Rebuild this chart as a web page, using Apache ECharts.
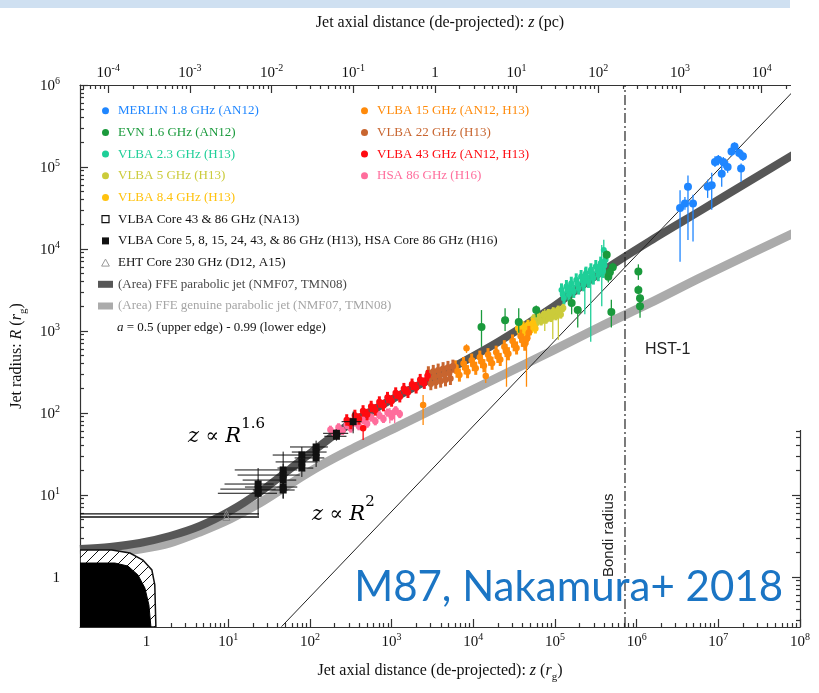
<!DOCTYPE html>
<html><head><meta charset="utf-8">
<script src="https://cdn.jsdelivr.net/npm/echarts@6/dist/echarts.min.js"></script>
<style>html,body{margin:0;padding:0;background:#fff}#c{width:819px;height:693px}</style>
</head><body><div id="c"></div>
<script>
// ===== axis ranges and ticks =====
const zMin = 0.153, zMax = 1e8;       // jet axial distance, r_g
const rMin = 0.2455, rMax = 1e6;      // jet radius, r_g
const rgPerPc = 3390;                 // 1 pc in r_g (top axis)
const bondiZ = 7.2e5;
const xTickVals = [1, 10, 100, 1e3, 1e4, 1e5, 1e6, 1e7, 1e8];
const xTickLabels = ['1', '10^1', '10^2', '10^3', '10^4', '10^5', '10^6', '10^7', '10^8'];
const pcTickVals = [1e-4, 1e-3, 1e-2, 1e-1, 1, 10, 100, 1e3, 1e4];
const pcTickLabels = ['10^-4', '10^-3', '10^-2', '10^-1', '1', '10^1', '10^2', '10^3', '10^4'];
const yTickVals = [1, 10, 100, 1e3, 1e4, 1e5, 1e6];
const yTickLabels = ['1', '10^1', '10^2', '10^3', '10^4', '10^5', '10^6'];

// ===== data: [z, R, Rlow, Rhigh, zlow, zhigh]; points with only [z, R] use the series' typical error (dex) =====
const merlin = [
  [3.4e6, 3.16e4, 7.0e3, 5.2e4], [3.9e6, 3.6e4, 3.0e4, 4.3e4], [4.25e6, 5.75e4, 1.29e4, 7.9e4],
  [4.9e6, 3.6e4, 1.23e4, 4.6e4], [7.4e6, 5.75e4, 4.2e4, 7.0e4], [8.3e6, 6.0e4, 3.0e4, 8.5e4],
  [9.1e6, 1.15e5, 1.0e5, 1.35e5], [1.0e7, 1.23e5, 1.05e5, 1.4e5], [1.1e7, 8.3e4, 5.75e4, 1.2e5],
  [1.15e7, 1.15e5, 9.8e4, 1.32e5], [1.3e7, 1.0e5, 8.5e4, 1.18e5], [1.45e7, 1.55e5, 1.35e5, 1.75e5],
  [1.58e7, 1.78e5, 1.58e5, 2.0e5], [1.8e7, 1.48e5, 1.3e5, 1.68e5], [2.0e7, 1.35e5, 1.18e5, 1.55e5],
  [1.9e7, 9.6e4, 6.6e4, 1.1e5]
];
const evn = [
  [1.26e4, 1.12e3, 6.4e2, 1.8e3], [2.45e4, 1.35e3, 1.0e3, 1.9e3], [3.6e4, 1.29e3, 9.5e2, 1.9e3],
  [5.9e4, 1.8e3, 1.47e3, 2.05e3], [1.6e5, 2.2e3, 1.6e3, 2.6e3], [1.9e5, 1.8e3, 1.1e3, 1.98e3],
  [4.3e5, 8.5e3, 7.5e3, 9.6e3], [5.1e5, 6.0e3, 5.3e3, 6.8e3], [4.5e5, 4.6e3, 3.9e3, 5.3e3],
  [4.9e5, 1.7e3, 1.1e3, 2.4e3], [1.05e6, 5.3e3, 4.2e3, 6.5e3], [1.05e6, 3.16e3, 2.8e3, 3.6e3],
  [1.1e6, 2.5e3, 2.2e3, 2.8e3], [1.1e6, 2.0e3, 1.45e3, 2.3e3], [4.7e5, 5.2e3, 4.6e3, 5.8e3]
];
const vlba23 = [
  [120226, 3170], [128825, 2518], [138038, 3483], [147911, 2767], [158489, 3819], [169824, 3041],
  [181970, 4198], [194984, 3342], [208930, 4613], [223872, 3664], [239883, 5070], [257040, 4027],
  [275423, 5572], [295121, 4426], [316228, 6109], [338844, 4864], [363078, 6714], [389045, 5333],
  [416869, 7379],
  [124451, 2825], [153109, 3251], [188365, 3741], [231739, 4315], [285102, 4966], [350752, 5715], [402717, 6281],
  [2.74e5, 5.25e3, 7.4e2, 6.5e3], [3.74e5, 6.94e3, 2.0e3, 1.12e4], [2.32e5, 4.69e3, 1.6e3, 5.9e3],
  [3.96e5, 9.72e3, 6.8e3, 1.3e4]
];
const vlba5 = [
  [54954, 1429], [58884, 1247], [63096, 1500], [67608, 1309], [72444, 1574], [77625, 1374],
  [83176, 1652], [89125, 1442], [95499, 1734], [102329, 1514], [109648, 1820], [117490, 1589], [125893, 1910],
  [7.5e4, 1.61e3, 1.0e3, 1.85e3], [9.4e4, 1.71e3, 8.0e2, 1.95e3], [1.1e5, 1.75e3, 7.8e2, 2.0e3]
];
const vlba84 = [
  [35481, 1079], [38019, 920], [40738, 1135], [43652, 968], [46774, 1194], [50119, 1016],
  [53703, 1253], [57544, 1069], [3.93e4, 1.15e3, 7.5e2, 1.35e3]
];
const vlba15 = [
  [6026, 365], [6761, 290], [7586, 401], [8511, 319], [9550, 441], [10715, 351], [12023, 480],
  [13490, 377], [15136, 514], [16982, 404], [19055, 551], [21380, 450], [23988, 643], [26915, 528],
  [30200, 755], [33884, 621], [38019, 865], [42658, 690], [47863, 959],
  [6310, 324], [7943, 355], [10000, 389], [12589, 424], [15849, 454], [19953, 490], [25119, 578],
  [31623, 679], [39811, 769], [45709, 818],
  [8.26e3, 615, 540, 690], [1.42e4, 283, 232, 354], [2.43e3, 125, 71.4, 166],
  [2.55e4, 560, 209, 700], [4.48e4, 800, 209, 950]
];
const vlba22 = [
  [2818, 309], [3020, 228], [3236, 321], [3467, 237], [3715, 333], [3981, 245], [4266, 347],
  [4571, 254], [4898, 359], [5248, 264], [5623, 372],
  [2917, 265], [3350, 275], [3846, 286], [4416, 296], [5070, 308]
];
const vlba43 = [
  [282, 82.2], [316, 74.5], [355, 93.3], [398, 84.5], [447, 106], [501, 95.7], [562, 120],
  [631, 109], [708, 136], [794, 123], [891, 154], [1000, 140], [1122, 175], [1259, 158],
  [1413, 198], [1585, 179], [1778, 224], [1995, 203], [2239, 255], [2512, 231], [2754, 285],
  [448, 65, 46.9, 72]
];
const hsa86 = [
  [178, 62.4], [200, 56.2], [224, 66.8], [251, 60.3], [282, 71.6], [316, 64.6], [355, 76.6],
  [398, 69.0], [447, 82.0], [501, 74.0], [562, 87.9], [631, 79.3], [708, 94.0], [794, 84.7],
  [891, 101], [1000, 90.8], [1122, 108], [1259, 97.2], [951, 100, 75, 115], [1.09e3, 103, 75, 118]
];
const coreVLBA = [
  [23.2, 10.5, 5.55, 21.3, 7.46, 39.5], [23.2, 11.8, 9.5, 14.5, 8.0, 38], [23.2, 13.6, 11.5, 15.5, 9.0, 36],
  [47, 20.2, 15, 33.8, 12, 70], [47, 17.5, 13, 24, 13, 75], [47, 15.2, 11, 20, 15, 68],
  [47, 12.5, 9.1, 16, 16, 70], [47, 11.5, 9, 14, 20, 65],
  [79.6, 30.7, 25, 38.5, 35, 132], [79.6, 25.3, 20, 31, 38, 125], [79.6, 21.3, 16.6, 26, 40, 110],
  [119, 38.5, 30, 46, 57, 166], [119, 33.4, 27, 40, 60, 160], [119, 28.3, 22, 35, 65, 150],
  [211, 56.5, 50, 63, 145, 294], [211, 52, 46, 58, 150, 280],
  [338, 78.3, 56.5, 104, 244, 428]
];
const coreNA13 = [];
const eht = [
  [9.5, 5.87, null, null, zMin, 23.8], [9.5, 5.39, null, null, zMin, 23.8]
];
// jet-shape bands (centre lines) and the conical reference line
const ffeParabolic = [
  [zMin, 2.19], [0.356, 2.32], [0.828, 2.6], [1.93, 3.16], [4.49, 4.19], [10.5, 6.38], [24.4, 10.9],
  [56.8, 20.7], [132, 39.6], [308, 73.5], [1.26e3, 166], [5.15e3, 344], [2.11e4, 755], [8.63e4, 1.85e3],
  [3.53e5, 5.1e3], [1.45e6, 1.25e4], [5.92e6, 2.9e4], [2.42e7, 6.75e4], [9.9e7, 1.57e5]
];
const ffeGenuine = [
  [zMin, 1.85], [0.356, 1.96], [0.828, 2.19], [1.93, 2.6], [4.49, 3.54], [10.5, 5.1], [24.4, 7.99],
  [56.8, 13.6], [132, 22.6], [308, 35.4], [1.26e3, 70.4], [5.15e3, 140], [2.11e4, 279], [8.63e4, 554],
  [3.53e5, 1.12e3], [1.45e6, 2.19e3], [5.92e6, 4.43e3], [2.42e7, 8.68e3], [9.9e7, 1.69e4]
];
const conical = [[44.9, 0.248], [7.47e7, 7.55e5], [1.0e8, 1.02e6]];
// black hole (shadow) and hatched ergo-region outlines
const bhCore = [[zMin, 1.48], [0.409, 1.48], [0.59, 1.36], [0.783, 1.06], [0.953, 0.734], [1.067, 0.456], [1.13, rMin], [zMin, rMin]];
const bhHatch = [[zMin, 2.13], [0.376, 2.13], [0.625, 1.96], [0.901, 1.61], [1.16, 1.22], [1.26, 0.80], [1.30, rMin], [zMin, rMin]];

// ===== styling =====
const SERIF = 'Liberation Serif';
const SANS = 'Liberation Sans';
const AX = { color: '#333', width: 1.2 };
const C = {
  merlin: '#1f86ff', evn: '#1a9a3c', v23: '#1ecf98', v5: '#cbcb3a', v84: '#ffc20e',
  v15: '#ff8a0a', v22: '#c8652f', v43: '#ff0a10', hsa: '#ff6d9c', dark: '#575757', light: '#ababab'
};

function minorTicks(lo, hi) {
  const out = [];
  for (let e = Math.floor(Math.log10(lo)); e <= Math.ceil(Math.log10(hi)); e++)
    for (let m = 2; m <= 9; m++) { const v = m * Math.pow(10, e); if (v >= lo && v <= hi) out.push(v); }
  return out;
}
function richLabel(s) {
  if (s.indexOf('^') < 0) return '{b|' + s + '}';
  const p = s.split('^');
  return '{b|' + p[0] + '}{s|' + p[1] + '}';
}
function fmt(vals, labels) {
  return function (v) {
    for (let i = 0; i < vals.length; i++)
      if (Math.abs(Math.log10(vals[i]) - Math.log10(v)) < 1e-6) return richLabel(labels[i]);
    return '';
  };
}
const tickRich = {
  b: { fontFamily: SERIF, fontSize: 15, lineHeight: 18, verticalAlign: 'bottom', color: '#111' },
  s: { fontFamily: SERIF, fontSize: 10, lineHeight: 10, verticalAlign: 'top', color: '#111' }
};
const nameRich = {
  t: { fontFamily: SERIF, fontSize: 16, lineHeight: 20, verticalAlign: 'top', color: '#111' },
  i: { fontFamily: SERIF, fontSize: 16, lineHeight: 20, verticalAlign: 'top', fontStyle: 'italic', color: '#111' },
  sub: { fontFamily: SERIF, fontSize: 11, lineHeight: 11, verticalAlign: 'bottom', color: '#111' }
};

function majorAxis(pos, min, max, vals, labels, margin, extra) {
  return Object.assign({
    type: 'log', logBase: 10, position: pos, min: min, max: max,
    axisLine: { show: true, onZero: false, lineStyle: AX },
    splitLine: { show: false }, minorSplitLine: { show: false },
    axisTick: { show: true, inside: true, length: 8, lineStyle: AX, customValues: vals },
    axisLabel: labels ? { show: true, margin: margin, customValues: vals, formatter: fmt(vals, labels), rich: tickRich } : { show: false }
  }, extra || {});
}
function minorAxis(pos, min, max) {
  return {
    type: 'log', logBase: 10, position: pos, min: min, max: max,
    axisLine: { show: false }, splitLine: { show: false }, axisLabel: { show: false },
    axisTick: { show: true, inside: true, length: 4, lineStyle: AX, customValues: minorTicks(min, max) }
  };
}

// hatch pattern for the ergo-region
const hatch = document.createElement('canvas');
hatch.width = 11; hatch.height = 11;
(function () {
  const g = hatch.getContext('2d');
  g.fillStyle = '#fff'; g.fillRect(0, 0, 11, 11);
  g.strokeStyle = '#111'; g.lineWidth = 1;
  g.beginPath(); g.moveTo(-1, 12); g.lineTo(12, -1); g.stroke();
})();

function pointSeries(name, arr, color, shape, size, z, barW, defErr, barColor) {
  return {
    type: 'custom', name: name, data: arr.map(d => [d[0], d[1]]), clip: true, z: z,
    itemStyle: { color: color }, silent: true,
    renderItem: function (params, api) {
      const d = arr[params.dataIndex];
      const ch = [];
      const p = api.coord([d[0], d[1]]);
      const bc = barColor || color;
      let lo = d[2], hi = d[3], w = 1.3;
      if (lo == null && defErr) { const f = Math.pow(10, defErr); lo = d[1] / f; hi = d[1] * f; w = barW || 1.3; }
      else if (lo != null) { w = barW && barW < 1.5 ? barW : 1.3; }
      if (lo != null) {
        const a = api.coord([d[0], lo]), b = api.coord([d[0], hi]);
        ch.push({ type: 'line', shape: { x1: a[0], y1: a[1], x2: b[0], y2: b[1] }, style: { stroke: bc, lineWidth: w } });
      }
      if (d[4] != null) {
        const a = api.coord([d[4], d[1]]), b = api.coord([d[5], d[1]]);
        ch.push({ type: 'line', shape: { x1: a[0], y1: a[1], x2: b[0], y2: b[1] }, style: { stroke: bc, lineWidth: w } });
      }
      const h = size / 2;
      if (shape === 'circle') ch.push({ type: 'circle', shape: { cx: p[0], cy: p[1], r: h }, style: { fill: color } });
      else if (shape === 'square') ch.push({ type: 'rect', shape: { x: p[0] - h, y: p[1] - h, width: size, height: size }, style: { fill: color } });
      else if (shape === 'osquare') ch.push({ type: 'rect', shape: { x: p[0] - h, y: p[1] - h, width: size, height: size }, style: { fill: '#fff', stroke: color, lineWidth: 1 } });
      else if (shape === 'triangle') ch.push({ type: 'polygon', shape: { points: [[p[0], p[1] - h], [p[0] + h, p[1] + h], [p[0] - h, p[1] + h]] }, style: { fill: 'none', stroke: color, lineWidth: 1 } });
      return { type: 'group', children: ch };
    }
  };
}

const N = {
  merlin: 'MERLIN 1.8 GHz (AN12)', evn: 'EVN 1.6 GHz (AN12)', v23: 'VLBA 2.3 GHz (H13)', v5: 'VLBA 5 GHz (H13)',
  v84: 'VLBA 8.4 GHz (H13)', na13: 'VLBA Core 43 & 86 GHz (NA13)',
  core: 'VLBA Core 5, 8, 15, 24, 43, & 86 GHz (H13), HSA Core 86 GHz (H16)', eht: 'EHT Core 230 GHz (D12, A15)',
  dark: '(Area) FFE parabolic jet (NMF07, TMN08)', light: '(Area) FFE genuine parabolic jet (NMF07, TMN08)',
  v15: 'VLBA 15 GHz (AN12, H13)', v22: 'VLBA 22 GHz (H13)', v43: 'VLBA 43 GHz (AN12, H13)', hsa: 'HSA 86 GHz (H16)'
};
const SQ = 'path://M0,0H10V10H0Z', TRI = 'path://M5,0L10,9H0Z';
const legTS = { fontFamily: SERIF, fontSize: 13, lineHeight: 14 };

const chart = echarts.init(document.getElementById('c'), null, { renderer: 'canvas' });
chart.setOption({
  animation: false,
  backgroundColor: '#fff',
  grid: { left: 80, right: 19, top: 85, bottom: 66, containLabel: false },
  xAxis: [
    majorAxis('bottom', zMin, zMax, xTickVals, xTickLabels, 5, {
      name: '{t|Jet axial distance (de-projected): }{i|z}{t| (}{i|r}{sub|g}{t|)}',
      nameLocation: 'middle', nameGap: 36, nameTextStyle: { rich: nameRich }
    }),
    minorAxis('bottom', zMin, zMax),
    majorAxis('top', zMin / rgPerPc, zMax / rgPerPc, pcTickVals, pcTickLabels, 4, {
      name: '{t|Jet axial distance (de-projected): }{i|z}{t| (pc)}',
      nameLocation: 'middle', nameGap: 50, nameTextStyle: { rich: nameRich }
    }),
    minorAxis('top', zMin / rgPerPc, zMax / rgPerPc)
  ],
  yAxis: [
    majorAxis('left', rMin, rMax, yTickVals, yTickLabels, 20, {
      name: '{t|Jet radius: }{i|R}{t| (}{i|r}{sub|g}{t|)}',
      nameLocation: 'middle', nameGap: 45, nameTextStyle: { rich: nameRich }
    }),
    minorAxis('left', rMin, rMax),
    majorAxis('right', rMin, rMax, yTickVals, null, 0),
    minorAxis('right', rMin, rMax)
  ],
  legend: [
    {
      orient: 'vertical', left: 98, top: 103.7, padding: 0, itemWidth: 15, itemHeight: 7, itemGap: 7.7,
      selectedMode: false, textStyle: legTS,
      data: [
        { name: N.merlin, icon: 'circle', itemStyle: { color: C.merlin }, textStyle: { color: C.merlin } },
        { name: N.evn, icon: 'circle', itemStyle: { color: C.evn }, textStyle: { color: C.evn } },
        { name: N.v23, icon: 'circle', itemStyle: { color: C.v23 }, textStyle: { color: C.v23 } },
        { name: N.v5, icon: 'circle', itemStyle: { color: C.v5 }, textStyle: { color: C.v5 } },
        { name: N.v84, icon: 'circle', itemStyle: { color: C.v84 }, textStyle: { color: C.v84 } },
        { name: N.na13, icon: SQ, itemStyle: { color: '#fff', borderColor: '#111', borderWidth: 1.2 }, textStyle: { color: '#111' } },
        { name: N.core, icon: SQ, itemStyle: { color: '#111' }, textStyle: { color: '#111' } },
        { name: N.eht, icon: TRI, itemStyle: { color: '#fff', borderColor: '#999', borderWidth: 1 }, textStyle: { color: '#111' } },
        { name: N.dark, icon: 'rect', itemStyle: { color: C.dark }, textStyle: { color: '#4a4a4a' } },
        { name: N.light, icon: 'rect', itemStyle: { color: C.light }, textStyle: { color: '#a5a5a5' } }
      ]
    },
    {
      orient: 'vertical', left: 361, top: 103.7, padding: 0, itemWidth: 15, itemHeight: 7, itemGap: 7.7,
      selectedMode: false, textStyle: legTS,
      data: [
        { name: N.v15, icon: 'circle', itemStyle: { color: C.v15 }, textStyle: { color: C.v15 } },
        { name: N.v22, icon: 'circle', itemStyle: { color: C.v22 }, textStyle: { color: C.v22 } },
        { name: N.v43, icon: 'circle', itemStyle: { color: C.v43 }, textStyle: { color: C.v43 } },
        { name: N.hsa, icon: 'circle', itemStyle: { color: C.hsa }, textStyle: { color: C.hsa } }
      ]
    }
  ],
  series: [
    { type: 'line', name: N.light, data: ffeGenuine, smooth: 0.3, showSymbol: false, z: 1, silent: true,
      itemStyle: { color: C.light }, lineStyle: { color: C.light, width: 9, cap: 'butt' } },
    { type: 'line', name: N.dark, data: ffeParabolic, smooth: 0.3, showSymbol: false, z: 1, silent: true,
      itemStyle: { color: C.dark }, lineStyle: { color: C.dark, width: 8, cap: 'butt' } },
    { type: 'line', name: 'conical', data: conical, showSymbol: false, z: 2, silent: true,
      lineStyle: { color: '#222', width: 1 } },
    { type: 'line', name: 'Bondi', data: [[bondiZ, rMin], [bondiZ, rMax]], showSymbol: false, z: 2, silent: true,
      lineStyle: { color: '#222', width: 1.2, type: [10, 3, 2, 3] } },
    {
      type: 'custom', name: 'black hole', data: [[1, 1]], clip: true, z: 3, silent: true,
      renderItem: function (params, api) {
        const pts = a => a.map(p => api.coord(p));
        return {
          type: 'group', children: [
            { type: 'polygon', shape: { points: pts(bhHatch) }, style: { fill: { image: hatch, repeat: 'repeat' }, stroke: '#111', lineWidth: 1.5 } },
            { type: 'polygon', shape: { points: pts(bhCore) }, style: { fill: '#000', stroke: '#000', lineWidth: 1 } }
          ]
        };
      }
    },
    pointSeries(N.v23, vlba23, C.v23, 'circle', 6, 5, 3, 0.08),
    pointSeries(N.evn, evn, C.evn, 'circle', 8, 6, 1.3),
    pointSeries(N.merlin, merlin, C.merlin, 'circle', 8, 5, 1.3),
    pointSeries(N.v5, vlba5, C.v5, 'circle', 6.5, 5, 3, 0.05),
    pointSeries(N.v84, vlba84, C.v84, 'circle', 6.5, 5, 3, 0.06),
    pointSeries(N.v15, vlba15, C.v15, 'circle', 6.5, 5, 3, 0.08),
    pointSeries(N.v22, vlba22, C.v22, 'circle', 6.5, 5, 3, 0.08),
    pointSeries(N.hsa, hsa86, C.hsa, 'circle', 6.5, 5, 3, 0.05),
    pointSeries(N.v43, vlba43, C.v43, 'circle', 6.5, 5, 3, 0.07),
    pointSeries(N.na13, coreNA13, '#111', 'osquare', 7, 7, 1),
    pointSeries(N.core, coreVLBA, '#111', 'square', 7, 7, 1),
    pointSeries(N.eht, eht, '#888', 'triangle', 7, 7, 1, null, '#111')
  ],
  graphic: [
    { type: 'rect', z: 100, shape: { x: 0, y: 0, width: 790, height: 8 }, style: { fill: '#cfe0f1' } },
    { type: 'rect', z: 99, shape: { x: 791, y: 8, width: 28, height: 422 }, style: { fill: '#fff' } },
    { type: 'text', z: 101, x: 117, y: 328, style: {
      text: '{i|a} = 0.5 (upper edge) - 0.99 (lower edge)', textAlign: 'left', align: 'left', textVerticalAlign: 'middle', verticalAlign: 'middle',
      fontFamily: SERIF, fontSize: 13, fill: '#111',
      rich: { i: { fontFamily: SERIF, fontSize: 13, fontStyle: 'italic', fill: '#111', color: '#111' } } } },
    { type: 'text', z: 101, x: 188, y: 432, style: {
      text: '{i|z}{o| ∝ }{i|R}{s|1.6}', textAlign: 'left', align: 'left', textVerticalAlign: 'middle', verticalAlign: 'middle',
      rich: {
        i: { fontFamily: 'DejaVu Serif', fontSize: 21, fontStyle: 'italic', lineHeight: 30, verticalAlign: 'bottom', color: '#222' },
        o: { fontFamily: 'DejaVu Serif', fontSize: 20, lineHeight: 30, verticalAlign: 'bottom', color: '#222' },
        s: { fontFamily: 'DejaVu Serif', fontSize: 15, lineHeight: 14, verticalAlign: 'top', color: '#222' } } } },
    { type: 'text', z: 101, x: 312, y: 510, style: {
      text: '{i|z}{o| ∝ }{i|R}{s|2}', textAlign: 'left', align: 'left', textVerticalAlign: 'middle', verticalAlign: 'middle',
      rich: {
        i: { fontFamily: 'DejaVu Serif', fontSize: 21, fontStyle: 'italic', lineHeight: 30, verticalAlign: 'bottom', color: '#333' },
        o: { fontFamily: 'DejaVu Serif', fontSize: 20, lineHeight: 30, verticalAlign: 'bottom', color: '#333' },
        s: { fontFamily: 'DejaVu Serif', fontSize: 15, lineHeight: 14, verticalAlign: 'top', color: '#333' } } } },
    { type: 'text', z: 101, x: 645, y: 350, style: {
      text: 'HST-1', textAlign: 'left', align: 'left', textVerticalAlign: 'middle', verticalAlign: 'middle',
      fontFamily: SANS, fontSize: 16, fill: '#222' } },
    { type: 'text', z: 101, x: 609, y: 577, rotation: Math.PI / 2, style: {
      text: 'Bondi radius', textAlign: 'left', align: 'left', textVerticalAlign: 'middle', verticalAlign: 'middle',
      fontFamily: SANS, fontSize: 15, fill: '#222' } },
    { type: 'text', z: 101, x: 783, y: 587, style: {
      text: 'M87, Nakamura+ 2018', textAlign: 'right', align: 'right', textVerticalAlign: 'middle', verticalAlign: 'middle',
      fontFamily: 'Lato', fontSize: 42, fill: '#1b75c4' } }
  ]
});
</script>
</body></html>
